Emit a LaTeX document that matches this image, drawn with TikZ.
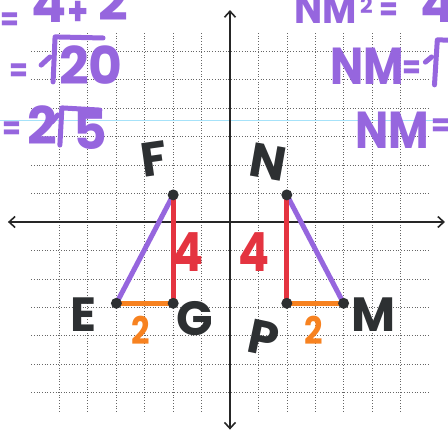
\documentclass[tikz,border=0pt]{standalone}
\usepackage{fontspec}
\setmainfont{Poppins}
\newfontfamily\handfont{Poppins}[FakeStretch=0.85]
\usetikzlibrary{arrows.meta}
\definecolor{penpurple}{RGB}{150,102,222}
\definecolor{penred}{RGB}{228,52,64}
\definecolor{penorange}{RGB}{247,130,32}
\definecolor{penblack}{RGB}{45,48,50}

\begin{document}
\begin{tikzpicture}[
  x=28.4pt, y=27.1pt,
  gridline/.style={draw=black!60, line width=.7pt, dotted},
  axis/.style={draw=black!85, line width=1.6pt, {Straight Barb[length=6pt,width=11pt]}-{Straight Barb[length=6pt,width=11pt]}},
  side/.style={draw=#1, line width=5pt, line cap=round},
  vtx/.style={circle, fill=penblack, inner sep=0pt, minimum size=11pt},
  lbl/.style={text=penblack, font=\fontsize{48}{48}\selectfont\bfseries, inner sep=0pt},
  len/.style 2 args={text=#1, font=\handfont\fontsize{#2}{#2}\selectfont\bfseries, inner sep=0pt},
  work/.style={text=penpurple, font=\fontsize{52}{52}\selectfont\bfseries, inner sep=0pt},
  worknm/.style={work, font=\handfont\fontsize{#1}{#1}\selectfont\bfseries, anchor=base west},
  eq/.style={work, font=\handfont\fontsize{32}{32}\selectfont\bfseries},
  radical/.style={draw=penpurple, line width=5pt, line cap=round, line join=round}
]
\useasboundingbox (-8.099,-7.675) rectangle (7.676,8.192);
\clip (-8.099,-7.675) rectangle (7.676,8.192);

% paper grid
\draw[gridline] (-7,-7) grid (7,7);
\draw[cyan!35, line width=.8pt] (-8.099,3.76) -- (7.676,3.76);

% axes
\coordinate (xleft) at (-7.82,0);
\coordinate (xright) at (7.57,0);
\coordinate (ytop) at (0,7.82);
\coordinate (ybottom) at (0,-7.66);
\draw[axis] (xleft) -- (xright);
\draw[axis] (ytop) -- (ybottom);

% triangle EFG and its reflection NPM
\coordinate (E) at (-4,-3);
\coordinate (F) at (-2,1);
\coordinate (G) at (-2,-3);
\coordinate (N) at (2,1);
\coordinate (P) at (2,-3);
\coordinate (M) at (4,-3);
\draw[side=penpurple] (E) -- (F);
\draw[side=penred] (F) -- (G);
\draw[side=penorange] (E) -- (G);
\draw[side=penpurple] (N) -- (M);
\draw[side=penred] (N) -- (P);
\draw[side=penorange] (P) -- (M);
\foreach \v in {E,F,G,N,P,M}
  \node[vtx] (dot\v) at (\v) {};

\node[lbl, rotate=8] (labF) at (-2.68,2.32) {F};
\node[lbl, rotate=-10] (labN) at (1.34,2.21) {N};
\node[lbl] (labE) at (-5.15,-3.42) {E};
\node[lbl] (labG) at (-1.23,-3.58) {G};
\node[lbl, rotate=-12] (labP) at (1.20,-4.28) {P};
\node[lbl] (labM) at (5.04,-3.43) {M};

\node[len={penred}{54}] (fgLen) at (-1.48,-1.11) {4};
\node[len={penred}{54}] (npLen) at (0.85,-1.11) {4};
\node[len={penorange}{38}] (egLen) at (-3.13,-3.99) {2};
\node[len={penorange}{38}] (pmLen) at (2.96,-3.99) {2};

% purple working, left
\node[eq] (eqA) at (-7.75,7.41) {=};
\node[work, anchor=base west] (fourA) at (-7.0,7.38) {4};
\node[eq, font=\handfont\fontsize{40}{40}\selectfont\bfseries] (plusA) at (-5.35,7.70) {+};
\node[work, anchor=base west] (twoA) at (-4.62,7.45) {2};

\node[eq] (eqB) at (-7.43,5.50) {=};
\draw[radical] (-6.65,5.79) -- (-6.34,6.09);
\draw[radical] (-6.23,5.17) -- (-6.16,6.83) -- (-4.47,6.79);
\node[work] (twentyB) at (-4.90,5.79) {20};

\node[eq] (eqC) at (-7.68,3.36) {=};
\node[work] (twoC) at (-6.62,3.58) {2};
\draw[radical] (-6.27,3.69) -- (-6.06,3.95);
\draw[radical] (-5.99,2.84) -- (-5.92,4.21) -- (-4.58,4.13);
\node[work] (fiveC) at (-4.90,3.39) {5};

% purple working, right
\node[worknm=44] (nmD) at (2.25,7.31) {NM};
\node[eq, font=\fontsize{22}{22}\selectfont\bfseries] (supD) at (4.80,8.00) {2};
\node[eq] (eqD) at (5.58,7.75) {=};
\node[work, anchor=base west] (fourD) at (6.69,7.38) {4};

\node[worknm=52] (nmE) at (3.52,5.06) {NM};
\node[eq] (eqE) at (6.42,5.61) {=};
\draw[radical] (6.88,5.90) -- (7.10,6.09);
\draw[radical] (7.20,5.06) -- (7.30,6.72) -- (9.15,6.68);

\node[worknm=52] (nmF) at (4.40,2.73) {NM};
\node[eq] (eqF) at (7.42,3.47) {=};
\end{tikzpicture}
\end{document}
